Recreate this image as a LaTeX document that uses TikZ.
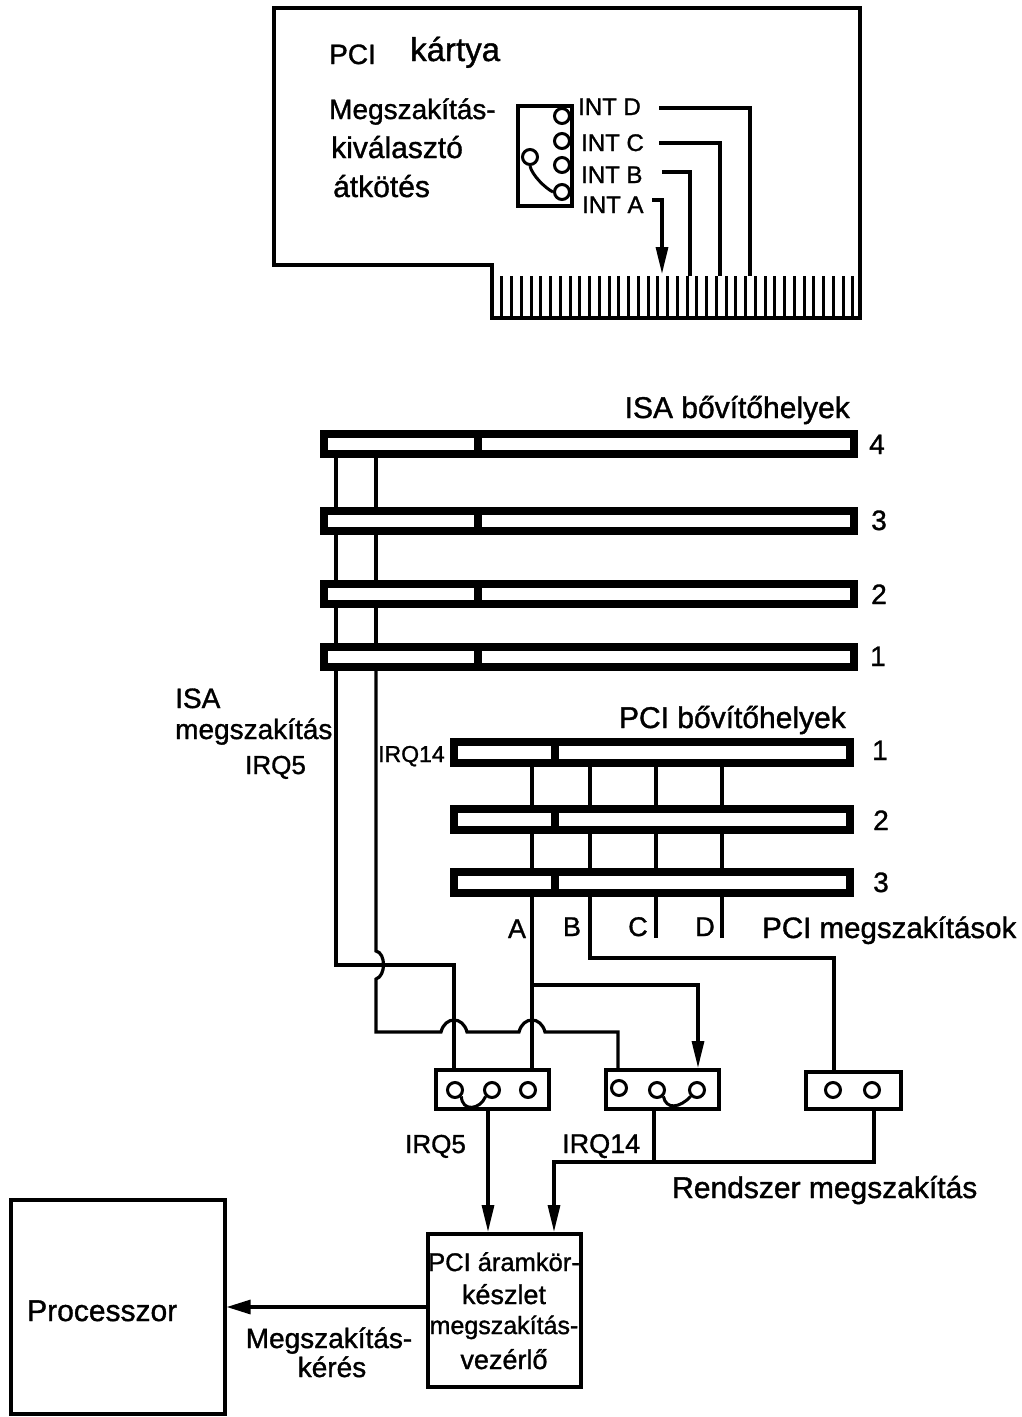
\documentclass[tikz,border=0pt]{standalone}
\usepackage{fontspec}
\setmainfont{Liberation Sans}[FakeBold=1.2]
\usetikzlibrary{arrows.meta}
\newcommand{\fs}[1]{\fontsize{#1}{#1}\selectfont\addfontfeature{FakeBold=1.2}}
\tikzset{
  x=1pt,y=-1pt,
  wire/.style={line width=3.2pt,line join=miter},
  wirearrow/.style={wire,-{Triangle[length=27pt,width=12pt]}},
  box/.style={draw,line width=3.6pt,inner sep=0pt,anchor=north west},
  slotbar/.style={draw,line width=8pt,inner sep=0pt,anchor=north west,minimum height=20pt,fill=white},
  isaslot/.style={slotbar,minimum width=530pt},
  pcislot/.style={slotbar,minimum width=396pt,minimum height=21pt},
  pin/.style={circle,draw,line width=3pt,minimum size=15pt,inner sep=0pt,fill=white},
  lbl/.style={inner sep=0pt,text height=26pt,text depth=6pt},
  lbl l/.style={lbl,anchor=west},
  lbl r/.style={lbl,anchor=east},
  num/.style={lbl,font=\fs{28}},
  jump/.style={line width=3pt},
}
\begin{document}
\begin{tikzpicture}
\useasboundingbox (0,0) rectangle (1022,1417);
% ---------- PCI card
\coordinate (c1) at (274,8);
\coordinate (c2) at (860,8);
\coordinate (c3) at (860,318);
\coordinate (c4) at (492,318);
\coordinate (c5) at (492,265);
\coordinate (c6) at (274,265);
\draw[wire] (c1)--(c2)--(c3)--(c4)--(c5)--(c6)--cycle;
\foreach \i in {0,...,37}{
  \draw[line width=3pt] ({492+\i*9.75},276)--({492+\i*9.75},318);
}
\node[lbl l,font=\fs{28}] (pci) at (329,54) {PCI};
\node[lbl l,font=\fs{33}] (kartya) at (410,51) {kártya};
\node[lbl l,font=\fs{28}] (msz) at (329,109) {Megszakítás-};
\node[lbl l,font=\fs{30}] (kiv) at (331,148) {kiválasztó};
\node[lbl l,font=\fs{30}] (atk) at (333,187) {átkötés};
\node[box,minimum width=54pt,minimum height=100pt] (jbox) at (516,104) {};
\node[pin] (p1) at (562,116) {};
\node[pin] (p2) at (562,141) {};
\node[pin] (p3) at (562,165) {};
\node[pin] (p4) at (562,192) {};
\node[pin] (p0) at (530,157) {};
\draw[jump] (p0.south) .. controls (532,175) and (545,188) .. (p4.west);
\node[lbl l,font=\fs{24}] (intd) at (578,105) {INT D};
\node[lbl l,font=\fs{24}] (intc) at (581,141) {INT C};
\node[lbl l,font=\fs{24}] (intb) at (581,173) {INT B};
\node[lbl l,font=\fs{24}] (inta) at (582,203) {INT A};
\coordinate (fa) at (662,274);
\coordinate (fb) at (690,276);
\coordinate (fc) at (720,276);
\coordinate (fd) at (750,276);
\draw[wire] (659,108)-|(fd);
\draw[wire] (659,143)-|(fc);
\draw[wire] (662,172)-|(fb);
\draw[wirearrow] (652,200)-|(fa);
% ---------- ISA slots
\node[isaslot] (isa4) at (320,430) {};
\node[isaslot] (isa3) at (320,507) {};
\node[isaslot] (isa2) at (320,580) {};
\node[isaslot] (isa1) at (320,643) {};
\foreach \n in {isa1,isa2,isa3,isa4}{
  \draw[line width=8pt] (\n.north west -| 478,0)--(\n.south west -| 478,0);
}
\node[lbl r,font=\fs{30}] (isat) at (850,408) {ISA bővítőhelyek};
\node[num] (n4) at (877,444) {4};
\node[num] (n3) at (879,520) {3};
\node[num] (n2) at (879,594) {2};
\node[num] (n1) at (878,656) {1};
\node[lbl l,font=\fs{28}] (isal) at (175,698) {ISA};
\node[lbl l,font=\fs{28}] (isam) at (175,729) {megszakítás};
\node[lbl l,font=\fs{26}] (irq5t) at (245,764) {IRQ5};
\node[lbl l,font=\fs{23}] (irq14t) at (378,752) {IRQ14};
% ---------- PCI slots
\node[pcislot] (pc1) at (450,738) {};
\node[pcislot] (pc2) at (450,805) {};
\node[pcislot] (pc3) at (450,868) {};
\foreach \n in {pc1,pc2,pc3}{
  \draw[line width=8pt] (\n.north west -| 555,0)--(\n.south west -| 555,0);
}
\node[lbl r,font=\fs{30}] (pcit) at (846,718) {PCI bővítőhelyek};
\node[num] (m1) at (880,750) {1};
\node[num] (m2) at (881,820) {2};
\node[num] (m3) at (881,882) {3};
\node[lbl,font=\fs{27}] (la) at (517,928) {A};
\node[lbl,font=\fs{27}] (lb) at (572,926) {B};
\node[lbl,font=\fs{27}] (lc) at (638,926) {C};
\node[lbl,font=\fs{27}] (ld) at (705,926) {D};
\node[lbl l,font=\fs{29.5}] (pcim) at (762,928) {PCI megszakítások};
% ---------- wires between slots
\foreach \x in {532,590,656,722}{
  \draw[wire] (pc1.south -| \x,0)--(pc2.north -| \x,0);
  \draw[wire] (pc2.south -| \x,0)--(pc3.north -| \x,0);
}
\foreach \x in {336,376}{
  \draw[wire] (isa4.south -| \x,0)--(isa3.north -| \x,0);
  \draw[wire] (isa3.south -| \x,0)--(isa2.north -| \x,0);
  \draw[wire] (isa2.south -| \x,0)--(isa1.north -| \x,0);
}
% ---------- jumper boxes
\node[box,minimum width=113pt,minimum height=39pt] (j1) at (434,1068) {};
\node[box,minimum width=113pt,minimum height=39pt] (j2) at (604,1068) {};
\node[box,minimum width=95pt,minimum height=37pt] (j3) at (804,1070) {};
\node[pin] (a1) at (455,1090) {};
\node[pin] (a2) at (492,1090) {};
\node[pin] (a3) at (528,1090) {};
\node[pin] (b1) at (619,1088) {};
\node[pin] (b2) at (657,1090) {};
\node[pin] (b3) at (697,1090) {};
\node[pin] (d1) at (833,1090) {};
\node[pin] (d2) at (872,1090) {};
\draw[jump] (a1.south east) .. controls (462,1112) and (480,1110) .. (a2.south west);
\draw[jump] (b2.south east) .. controls (666,1110) and (680,1108) .. (b3.south west);
% ---------- long wires
\coordinate (isaA) at (336,965);
\draw[wire] (isa1.south -| 336,0)--(isaA)--(454,965)--(j1.north -| 454,0);
\coordinate (hopB) at (376,1032);
\draw[wire] (isa1.south -| 376,0)--(376,951)
  .. controls (386,953) and (386,976) .. (376,979)--(hopB)--(441,1032)
  .. controls (445,1016) and (463,1016) .. (467,1032)--(519,1032)
  .. controls (523,1016) and (541,1016) .. (545,1032)--(618,1032)--(j2.north -| 618,0);
\draw[wire] (pc3.south -| 532,0)--(j1.north -| 532,0);
\coordinate (brA) at (532,985);
\draw[wirearrow] (brA)-|(j2.north -| 698,0);
\draw[wire] (pc3.south -| 590,0)--(590,958)-|(j3.north -| 834,0);
\draw[wire] (pc3.south -| 656,0)--(656,938);
\draw[wire] (pc3.south -| 722,0)--(722,938);
% ---------- chip & processor
\node[box,minimum width=153pt,minimum height=153pt] (chip) at (426,1232) {};
\node[box,minimum width=214pt,minimum height=214pt] (cpu) at (9,1198) {};
\draw[wirearrow] (j1.south -| 488,0)--(chip.north -| 488,0);
\coordinate (bus) at (654,1162);
\draw[wire] (j2.south -| 654,0)--(bus);
\draw[wirearrow] (j3.south -| 874,0)--(874,1162)-|(chip.north -| 554,0);
\draw[wire,-{Triangle[length=24pt,width=14pt]}] (chip.west |- 0,1307)--(cpu.east |- 0,1307);
\node[lbl l,font=\fs{26}] (irq5) at (405,1143) {IRQ5};
\node[lbl l,font=\fs{27}] (irq14) at (562,1143) {IRQ14};
\node[lbl l,font=\fs{30}] (rendszer) at (672,1188) {Rendszer megszakítás};
\node[lbl,font=\fs{25.5}] (c1t) at (504,1261) {PCI áramkör-};
\node[lbl,font=\fs{27}] (c2t) at (504,1294) {készlet};
\node[lbl,font=\fs{25}] (c3t) at (504,1324) {megszakítás-};
\node[lbl,font=\fs{27}] (c4t) at (504,1359) {vezérlő};
\node[lbl l,font=\fs{30}] (proc) at (27,1311) {Processzor};
\node[lbl,font=\fs{28}] (mk1) at (329,1338) {Megszakítás-};
\node[lbl,font=\fs{28}] (mk2) at (332,1367) {kérés};
\end{tikzpicture}
\end{document}
